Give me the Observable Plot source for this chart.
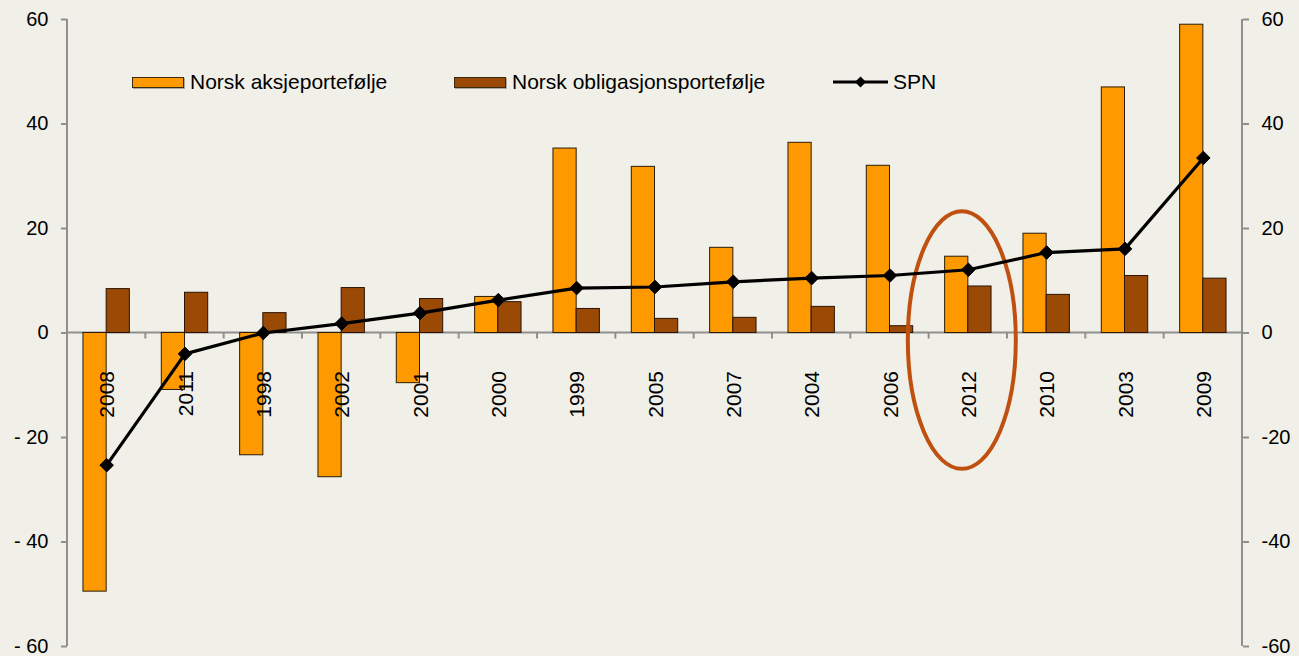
<!DOCTYPE html>
<html><head><meta charset="utf-8">
<script src="https://cdn.jsdelivr.net/npm/d3@7"></script>
<script src="https://cdn.jsdelivr.net/npm/@observablehq/plot@0.6"></script>
<style>
html,body{margin:0;padding:0;background:#f0efe8;}
#wrap{position:relative;width:1299px;height:656px;font-family:"Liberation Sans",Arial,sans-serif;overflow:hidden;}
#wrap svg{position:absolute;left:0;top:0;overflow:visible;}
.leg{position:absolute;top:71px;height:22px;display:flex;align-items:center;font-size:21px;color:#000;white-space:nowrap;}
.sw{box-sizing:border-box;width:52px;height:11px;border:1px solid #3a2a10;box-shadow:1px 1px 0 #a8a8a0;margin-right:6px;}
</style></head><body><div id="wrap"></div>
<script>
// ---- data ----
const years = ["2008","2011","1998","2002","2001","2000","1999","2005","2007","2004","2006","2012","2010","2003","2009"];
const aksje = [-49.5,-10.9,-23.4,-27.6,-9.6,6.9,35.3,31.8,16.3,36.4,32.0,14.6,19.0,47.0,59.0];
const oblig = [8.4,7.7,3.8,8.6,6.5,5.9,4.6,2.7,2.9,5.0,1.3,8.9,7.3,10.9,10.4];
const spn = [-25.3,-4.0,0.0,1.8,3.8,6.3,8.6,8.8,9.8,10.5,11.0,12.1,15.4,16.1,33.5];
const yTicks = [60,40,20,0,-20,-40,-60];
const seriesNames = ["Norsk aksjeportefølje","Norsk obligasjonsportefølje","SPN"];
const highlightYear = "2012";
const highlightSpan = [23.2, -26.1];

// ---- styles ----
const ORANGE = "#ff9900", BROWN = "#9b4a06", AXIS = "#8f8f8f", RING = "#c0500f";
const W = 1299, H = 656, ML = 67, MR = 57, MT = 19, MB = 10;
const BW = (W - ML - MR) / years.length, BAR = 23.2;

const aData = years.map((y, i) => ({year: y, v: aksje[i]}));
const oData = years.map((y, i) => ({year: y, v: oblig[i]}));
const sData = years.map((y, i) => ({year: y, v: spn[i]}));

function getScale(scales, k) {
  if (typeof scales[k] === "function") return scales[k];
  if (scales.scales && typeof scales.scales[k] === "function") return scales.scales[k];
  return scales[k].apply;
}

function axesDecor(index, scales, values, dims) {
  const x = getScale(scales, "x"), y = getScale(scales, "y");
  const {width, height, marginLeft, marginRight, marginTop, marginBottom} = dims;
  const bw = typeof x.bandwidth === "function" ? x.bandwidth() : (width - marginLeft - marginRight) / years.length;
  const g = d3.create("svg:g").attr("stroke", AXIS).attr("stroke-width", 2).attr("fill", "none");
  const y0 = y(0);
  g.append("line").attr("x1", marginLeft).attr("x2", marginLeft).attr("y1", marginTop).attr("y2", height - marginBottom);
  g.append("line").attr("x1", width - marginRight).attr("x2", width - marginRight).attr("y1", marginTop).attr("y2", height - marginBottom);
  g.append("line").attr("x1", marginLeft).attr("x2", width - marginRight).attr("y1", y0).attr("y2", y0);
  const edges = years.map(c => x(c)).concat([x(years[years.length - 1]) + bw]);
  for (const e of edges) g.append("line").attr("x1", e).attr("x2", e).attr("y1", y0).attr("y2", y0 + 6);
  return g.node();
}

function ring(index, scales, values, dims) {
  const x = getScale(scales, "x"), y = getScale(scales, "y");
  const {width, marginLeft, marginRight} = dims;
  const bw = typeof x.bandwidth === "function" ? x.bandwidth() : (width - marginLeft - marginRight) / years.length;
  const cx = x(highlightYear) + bw / 2 - 6;
  const yt = y(highlightSpan[0]), yb = y(highlightSpan[1]);
  return d3.create("svg:ellipse")
    .attr("cx", cx).attr("cy", (yt + yb) / 2)
    .attr("rx", 54).attr("ry", (yb - yt) / 2)
    .attr("fill", "none").attr("stroke", RING).attr("stroke-width", 4)
    .node();
}

const chart = Plot.plot({
  width: W, height: H,
  marginLeft: ML, marginRight: MR, marginTop: MT, marginBottom: MB,
  style: {background: "transparent", color: "#000", fontFamily: "'Liberation Sans', Arial, sans-serif", overflow: "visible"},
  x: {type: "band", domain: years, padding: 0, round: false, axis: null},
  y: {domain: [-60, 60], label: null},
  marks: [
    axesDecor,
    Plot.axisY({anchor: "left", ticks: yTicks, tickSize: 6, tickPadding: 13, stroke: AXIS, strokeWidth: 2, fontSize: 20, fill: "#000", label: null,
      tickFormat: d => d < 0 ? "- " + (-d) : String(d)}),
    Plot.axisY({anchor: "right", ticks: yTicks, tickSize: 6, tickPadding: 13, stroke: AXIS, strokeWidth: 2, fontSize: 20, fill: "#000", label: null,
      tickFormat: d => String(d)}),
    Plot.barY(aData, {x: "year", y: "v", fill: ORANGE, stroke: "#2a1c05", strokeWidth: 1,
      insetLeft: BW / 2 - BAR, insetRight: BW / 2}),
    Plot.barY(oData, {x: "year", y: "v", fill: BROWN, stroke: "#2a1305", strokeWidth: 1,
      insetLeft: BW / 2, insetRight: BW / 2 - BAR}),
    Plot.text(years, {x: d => d, y: () => 0, text: d => d, rotate: -90, textAnchor: "end", lineAnchor: "middle",
      dy: 38, dx: 1, fontSize: 21, fill: "#000"}),
    ring,
    Plot.line(sData, {x: "year", y: "v", stroke: "#000", strokeWidth: 3.2, strokeLinejoin: "round"}),
    Plot.dot(sData, {x: "year", y: "v", symbol: "diamond2", r: 6.1, fill: "#000", stroke: "#000", strokeWidth: 1})
  ]
});

const wrap = document.getElementById("wrap");
wrap.appendChild(chart);

// legend (inside plot area)
const legPos = [132, 454, 833];
const legFill = [ORANGE, BROWN, null];
seriesNames.forEach((name, i) => {
  const item = document.createElement("div");
  item.className = "leg";
  item.style.left = legPos[i] + "px";
  if (legFill[i]) {
    const sw = document.createElement("div");
    sw.className = "sw";
    sw.style.background = legFill[i];
    item.appendChild(sw);
  } else {
    const ns = "http://www.w3.org/2000/svg";
    const s = document.createElementNS(ns, "svg");
    s.setAttribute("width", 55); s.setAttribute("height", 14);
    s.style.position = "static"; s.style.marginRight = "5px";
    const l = document.createElementNS(ns, "line");
    l.setAttribute("x1", 0); l.setAttribute("x2", 55); l.setAttribute("y1", 7); l.setAttribute("y2", 7);
    l.setAttribute("stroke", "#000"); l.setAttribute("stroke-width", 3);
    s.appendChild(l);
    const p = document.createElementNS(ns, "path");
    p.setAttribute("d", "M27.5,1.5L33,7L27.5,12.5L22,7Z");
    p.setAttribute("fill", "#000");
    s.appendChild(p);
    item.appendChild(s);
  }
  const t = document.createElement("span");
  t.textContent = name;
  item.appendChild(t);
  wrap.appendChild(item);
});
</script>
</body></html>
